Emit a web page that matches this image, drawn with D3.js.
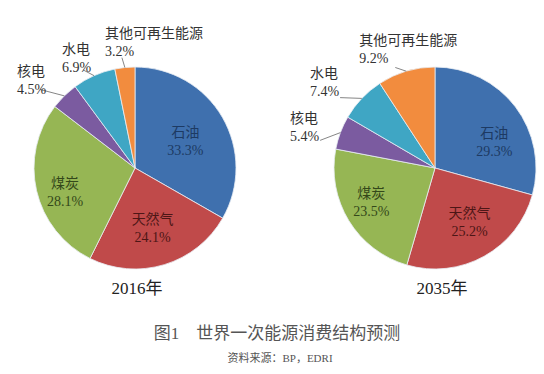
<!DOCTYPE html>
<html>
<head>
<meta charset="utf-8">
<script src="https://cdn.jsdelivr.net/npm/d3@7"></script>
<style>
  body { margin: 0; background: #fff; }
  text { font-family: "Liberation Serif", "Noto Sans CJK SC", serif; }
</style>
</head>
<body>
<div id="chart"></div>
<script>
// Datos de las dos tortas
const categorias = ['石油', '天然气', '煤炭', '核电', '水电', '其他可再生能源'];
const valores2016 = [33.3, 24.1, 28.1, 4.5, 6.9, 3.2];
const valores2035 = [29.3, 25.2, 23.5, 5.4, 7.4, 9.2];
const anios = ['2016年', '2035年'];
const titulo = '图1　世界一次能源消费结构预测';
const fuente = '资料来源：BP，EDRI';

const width = 544, height = 374, radius = 101;

const colores = d3.scaleOrdinal()
    .domain(categorias)
    .range(['#3f70ae', '#c04a4a', '#96b654', '#7b5ba0', '#3fa6c4', '#f28c3e']);
const colorTexto = { '石油': '#1d3a63', '天然气': '#4d1616', '煤炭': '#34481a' };

// Ajustes de etiquetas internas (desplazamiento desde el centroide)
const internas = [
    { '石油': [-2, 3], '天然气': [0, 2], '煤炭': [-11, 10] },
    { '石油': [11, 11], '天然气': [5, 1], '煤炭': [-12, 2] }
];
// Ajustes de etiquetas externas: fin de linea (angulo extra, radio) y texto relativo
const externas = [
    { // 2016
        '核电': { da: -6, r: 1.22, dx: -23, dy: -13 },
        '水电': { da: -4, r: 1.1, dx: -21, dy: -16 },
        '其他可再生能源': { da: -1, r: 1.1, dx: -17, dy: -20 }
    },
    { // 2035
        '核电': { da: -7, r: 1.17, dx: -30, dy: -17 },
        '水电': { da: -7, r: 1.17, dx: -30, dy: -20 },
        '其他可再生能源': { da: -5, r: 1.07, dx: -36, dy: -23 }
    }
];

const svg = d3.select('#chart').append('svg')
    .attr('width', width)
    .attr('height', height);

const pie = d3.pie().sort(null).value(d => d.v);
const arc = d3.arc().innerRadius(0).outerRadius(radius);
const arcLabel = d3.arc().innerRadius(radius * 0.6).outerRadius(radius * 0.6);

function polar(ang, r) {
    return [Math.sin(ang) * r, -Math.cos(ang) * r];
}

[valores2016, valores2035].forEach((vals, k) => {
    const cx = k === 0 ? 135 : 435, cy = 168;
    const datos = categorias.map((c, i) => ({ c: c, v: vals[i] }));
    const g = svg.append('g').attr('transform', `translate(${cx}, ${cy})`);
    const arcs = pie(datos);

    g.selectAll('path')
        .data(arcs)
        .join('path')
        .attr('d', arc)
        .style('fill', d => colores(d.data.c))
        .style('stroke', '#e8eef4')
        .style('stroke-width', 0.8);

    arcs.forEach(d => {
        const mid = (d.startAngle + d.endAngle) / 2;
        const aj = externas[k][d.data.c];
        if (!aj) {
            const off = internas[k][d.data.c];
            const c = arcLabel.centroid(d);
            const x = c[0] + off[0], y = c[1] + off[1];
            const t = g.append('text')
                .attr('text-anchor', 'middle')
                .style('font-size', '14px')
                .style('fill', colorTexto[d.data.c]);
            t.append('tspan').attr('x', x).attr('y', y - 4).text(d.data.c);
            t.append('tspan').attr('x', x).attr('y', y + 14).text(d.data.v.toFixed(1) + '%');
        } else {
            const p0 = polar(mid, radius);
            const p1 = polar(mid + aj.da * Math.PI / 180, radius * aj.r);
            g.append('line')
                .attr('x1', p0[0]).attr('y1', p0[1])
                .attr('x2', p1[0]).attr('y2', p1[1])
                .style('stroke', '#666')
                .style('stroke-width', 0.8);
            const x = p1[0] + aj.dx, y = p1[1] + aj.dy;
            const t = g.append('text')
                .attr('text-anchor', 'start')
                .style('font-size', '14px')
                .style('fill', '#333');
            t.append('tspan').attr('x', x).attr('y', y).text(d.data.c);
            t.append('tspan').attr('x', x).attr('y', y + 18).text(d.data.v.toFixed(1) + '%');
        }
    });

    // Etiqueta del anio
    svg.append('text')
        .attr('x', cx + (k === 0 ? 2 : 7))
        .attr('y', 294)
        .attr('text-anchor', 'middle')
        .style('font-size', '17px')
        .style('fill', '#222')
        .text(anios[k]);
});

svg.append('text')
    .attr('x', 277)
    .attr('y', 339)
    .attr('text-anchor', 'middle')
    .style('font-size', '17px')
    .style('fill', '#555')
    .text(titulo);

svg.append('text')
    .attr('x', 280)
    .attr('y', 362)
    .attr('text-anchor', 'middle')
    .style('font-size', '11px')
    .style('fill', '#555')
    .text(fuente);
</script>
</body>
</html>
